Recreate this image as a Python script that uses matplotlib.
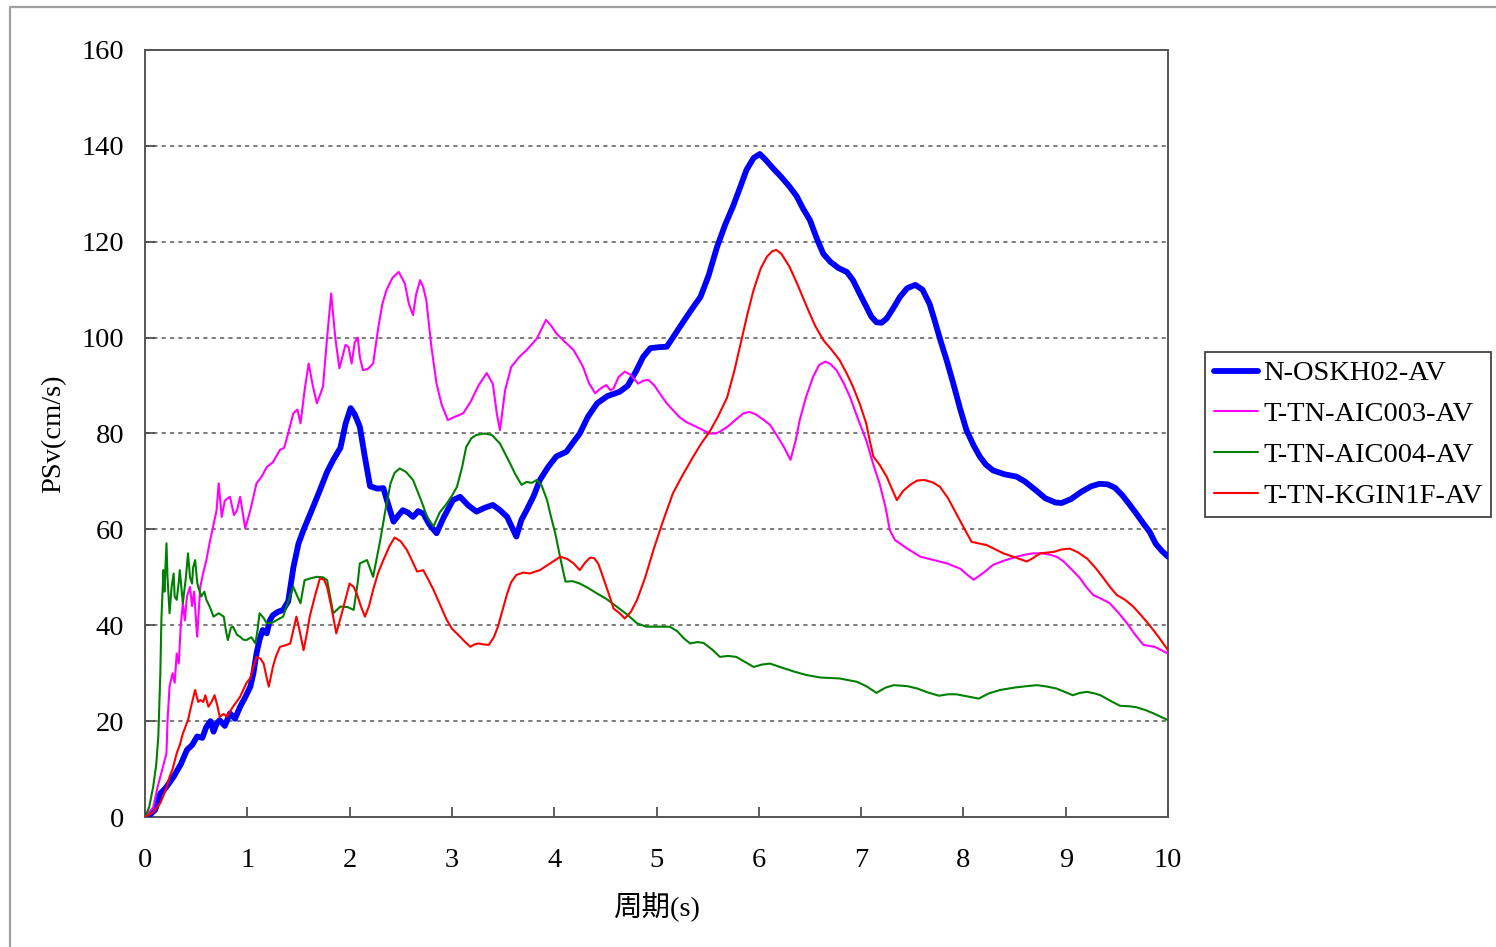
import matplotlib.pyplot as plt
from matplotlib.lines import Line2D
import numpy as np

plt.rcParams['font.family'] = ['Liberation Serif', 'Noto Sans CJK JP']

# 速度応答スペクトル (周期[s], PSv[cm/s])
oskh02 = [(0.00, 0.0), (0.05, 0.5), (0.10, 1.5), (0.15, 4.9), (0.20, 6.0), (0.28, 8.4), (0.35, 11.0),
          (0.41, 14.0), (0.46, 15.0), (0.51, 16.8), (0.56, 16.5), (0.60, 18.8), (0.64, 20.0), (0.67, 17.8),
          (0.70, 19.5), (0.73, 20.2), (0.78, 19.0), (0.83, 21.6), (0.88, 20.5), (0.93, 23.0), (0.98, 25.0),
          (1.03, 27.2), (1.06, 30.0), (1.09, 34.1), (1.12, 37.0), (1.15, 39.0), (1.19, 38.3), (1.22, 41.0),
          (1.25, 42.1), (1.30, 42.8), (1.35, 43.2), (1.40, 45.0), (1.45, 52.0), (1.50, 57.0), (1.55, 59.9),
          (1.63, 64.0), (1.71, 68.2), (1.78, 72.0), (1.84, 74.5), (1.91, 77.0), (1.96, 82.0), (2.01, 85.3),
          (2.05, 84.0), (2.10, 81.4), (2.15, 75.0), (2.20, 69.0), (2.27, 68.5), (2.33, 68.6), (2.38, 65.0),
          (2.43, 61.6), (2.48, 63.0), (2.52, 64.0), (2.57, 63.5), (2.62, 62.6), (2.67, 63.8), (2.72, 63.3),
          (2.78, 61.0), (2.85, 59.2), (2.92, 62.5), (3.01, 66.1), (3.08, 66.8), (3.16, 65.0), (3.24, 63.7),
          (3.32, 64.5), (3.40, 65.1), (3.47, 64.0), (3.54, 62.6), (3.63, 58.5), (3.68, 62.0), (3.73, 64.0),
          (3.80, 67.0), (3.86, 70.3), (3.94, 73.0), (4.02, 75.2), (4.12, 76.2), (4.18, 78.0), (4.25, 80.0),
          (4.33, 83.5), (4.42, 86.3), (4.52, 87.8), (4.64, 88.7), (4.72, 90.0), (4.80, 93.0), (4.87, 96.0),
          (4.94, 97.8), (5.02, 98.0), (5.10, 98.1), (5.16, 100.0), (5.23, 102.3), (5.30, 104.5), (5.36, 106.4),
          (5.43, 108.5), (5.51, 113.0), (5.59, 118.8), (5.67, 123.5), (5.75, 127.5), (5.82, 131.5), (5.88, 135.0),
          (5.95, 137.5), (6.01, 138.3), (6.07, 137.0), (6.14, 135.3), (6.22, 133.5), (6.30, 131.5), (6.37, 129.5),
          (6.43, 127.0), (6.50, 124.5), (6.57, 120.5), (6.63, 117.5), (6.70, 115.8), (6.78, 114.5), (6.86, 113.7),
          (6.92, 112.0), (6.99, 109.0), (7.05, 106.5), (7.10, 104.4), (7.15, 103.2), (7.20, 103.1), (7.25, 104.0),
          (7.31, 106.0), (7.38, 108.5), (7.45, 110.3), (7.53, 111.0), (7.60, 110.0), (7.67, 107.0), (7.72, 103.5),
          (7.77, 99.8), (7.84, 95.0), (7.90, 90.5), (7.97, 85.0), (8.03, 80.7), (8.10, 77.5), (8.16, 75.2),
          (8.22, 73.5), (8.29, 72.3), (8.40, 71.5), (8.52, 71.0), (8.60, 70.0), (8.70, 68.3), (8.80, 66.5),
          (8.90, 65.6), (8.96, 65.5), (9.05, 66.3), (9.15, 67.8), (9.25, 69.0), (9.33, 69.5), (9.41, 69.4),
          (9.48, 68.7), (9.55, 67.2), (9.62, 65.3), (9.70, 63.0), (9.76, 61.2), (9.82, 59.5), (9.88, 57.0),
          (9.94, 55.5), (10.00, 54.3)]

aic003 = [(0.00, 0.0), (0.08, 2.0), (0.12, 6.0), (0.17, 10.0), (0.21, 13.3), (0.22, 20.0), (0.24, 27.2),
          (0.27, 30.0), (0.29, 28.0), (0.31, 34.1), (0.33, 32.0), (0.35, 40.0), (0.37, 44.6), (0.39, 41.0),
          (0.41, 46.0), (0.44, 48.0), (0.46, 44.0), (0.48, 47.0), (0.51, 37.6), (0.54, 48.0), (0.57, 51.0),
          (0.60, 53.6), (0.63, 57.0), (0.66, 60.0), (0.68, 62.0), (0.70, 64.0), (0.72, 69.6), (0.75, 62.6),
          (0.78, 66.0), (0.83, 66.8), (0.87, 63.0), (0.90, 64.0), (0.93, 66.8), (0.98, 60.2), (1.03, 64.0),
          (1.09, 69.6), (1.14, 71.0), (1.19, 73.0), (1.25, 74.0), (1.32, 76.6), (1.36, 77.0), (1.39, 79.3),
          (1.45, 84.2), (1.49, 85.0), (1.52, 82.1), (1.56, 89.0), (1.60, 94.6), (1.64, 90.0), (1.68, 86.3),
          (1.71, 88.0), (1.74, 89.8), (1.78, 100.0), (1.82, 109.2), (1.86, 100.0), (1.90, 93.6), (1.93, 96.0),
          (1.96, 98.5), (1.99, 98.0), (2.02, 94.6), (2.05, 99.0), (2.08, 100.0), (2.10, 96.0), (2.13, 93.2),
          (2.18, 93.5), (2.23, 94.6), (2.28, 102.0), (2.32, 107.0), (2.36, 109.9), (2.42, 112.5), (2.48, 113.7),
          (2.54, 111.3), (2.58, 107.0), (2.62, 104.7), (2.65, 109.0), (2.69, 112.0), (2.72, 110.5), (2.75, 107.8),
          (2.80, 98.0), (2.85, 90.4), (2.90, 86.0), (2.96, 82.8), (3.03, 83.5), (3.11, 84.2), (3.18, 86.5),
          (3.26, 90.0), (3.34, 92.6), (3.40, 90.4), (3.44, 84.0), (3.47, 80.7), (3.52, 89.0), (3.58, 93.9),
          (3.66, 96.0), (3.73, 97.4), (3.83, 99.8), (3.92, 103.7), (3.97, 102.5), (4.02, 100.9), (4.10, 99.2),
          (4.19, 97.4), (4.28, 94.0), (4.34, 90.5), (4.40, 88.4), (4.46, 89.5), (4.51, 90.1), (4.55, 89.0),
          (4.58, 89.4), (4.63, 91.8), (4.69, 92.9), (4.75, 92.2), (4.82, 90.4), (4.87, 91.0), (4.92, 91.2),
          (4.98, 90.0), (5.05, 87.8), (5.10, 86.3), (5.16, 84.9), (5.22, 83.5), (5.29, 82.4), (5.40, 81.3),
          (5.52, 80.0), (5.58, 80.0), (5.62, 80.4), (5.70, 81.5), (5.78, 83.0), (5.85, 84.2), (5.91, 84.5),
          (5.97, 84.0), (6.05, 82.8), (6.11, 81.8), (6.18, 79.5), (6.25, 77.0), (6.31, 74.5), (6.36, 78.5),
          (6.40, 82.8), (6.46, 87.5), (6.53, 91.8), (6.59, 94.3), (6.65, 95.0), (6.70, 94.5), (6.76, 93.2),
          (6.83, 90.5), (6.89, 87.7), (6.97, 83.0), (7.05, 78.6), (7.12, 73.5), (7.18, 69.6), (7.24, 64.5),
          (7.28, 59.9), (7.33, 57.8), (7.45, 56.0), (7.58, 54.3), (7.71, 53.6), (7.84, 52.9), (7.97, 51.8),
          (8.04, 50.5), (8.10, 49.5), (8.20, 51.0), (8.29, 52.6), (8.40, 53.5), (8.52, 54.3), (8.60, 54.7),
          (8.68, 55.0), (8.77, 55.0), (8.85, 54.7), (8.92, 54.2), (8.98, 53.3), (9.06, 51.6), (9.14, 49.8),
          (9.20, 48.0), (9.27, 46.3), (9.35, 45.5), (9.43, 44.6), (9.52, 42.5), (9.60, 40.4), (9.68, 38.0),
          (9.76, 35.9), (9.87, 35.5), (10.00, 34.1)]

aic004 = [(0.00, 0.0), (0.04, 2.0), (0.08, 6.3), (0.11, 11.0), (0.13, 16.8), (0.15, 30.0), (0.16, 41.0),
          (0.18, 51.5), (0.19, 47.0), (0.21, 57.1), (0.22, 50.0), (0.24, 42.5), (0.26, 48.0), (0.28, 50.8),
          (0.29, 46.0), (0.31, 45.3), (0.33, 49.0), (0.34, 51.5), (0.36, 47.0), (0.37, 44.6), (0.40, 50.0),
          (0.42, 55.0), (0.44, 50.0), (0.46, 48.7), (0.47, 52.0), (0.49, 53.6), (0.51, 49.0), (0.52, 48.0),
          (0.55, 46.0), (0.58, 47.0), (0.60, 45.3), (0.63, 44.0), (0.67, 41.8), (0.72, 42.5), (0.77, 41.8),
          (0.79, 39.0), (0.81, 36.9), (0.84, 39.5), (0.86, 39.7), (0.90, 38.0), (0.93, 37.6), (0.96, 37.0),
          (0.99, 36.9), (1.04, 37.5), (1.08, 36.2), (1.10, 39.0), (1.12, 42.5), (1.16, 41.5), (1.19, 40.4),
          (1.24, 40.5), (1.29, 41.1), (1.35, 41.8), (1.40, 45.0), (1.45, 48.0), (1.49, 46.0), (1.52, 44.6),
          (1.56, 49.4), (1.62, 49.8), (1.68, 50.1), (1.74, 50.0), (1.78, 49.4), (1.81, 46.0), (1.84, 42.5),
          (1.91, 43.9), (1.98, 43.8), (2.04, 43.2), (2.08, 49.0), (2.10, 52.9), (2.17, 53.6), (2.23, 50.1),
          (2.30, 57.8), (2.35, 64.0), (2.40, 69.6), (2.44, 71.8), (2.49, 72.7), (2.55, 72.0), (2.62, 70.3),
          (2.70, 66.0), (2.76, 62.5), (2.82, 60.6), (2.88, 63.5), (2.95, 65.4), (3.00, 67.0), (3.05, 68.9),
          (3.10, 73.0), (3.14, 77.2), (3.19, 79.0), (3.24, 79.7), (3.32, 80.0), (3.39, 79.7), (3.47, 77.9),
          (3.57, 73.7), (3.62, 71.5), (3.68, 69.3), (3.73, 69.9), (3.78, 69.7), (3.83, 70.3), (3.88, 69.0),
          (3.93, 66.1), (3.97, 62.5), (4.01, 59.2), (4.06, 54.0), (4.11, 49.1), (4.18, 49.2), (4.25, 48.7),
          (4.33, 47.8), (4.42, 46.6), (4.51, 45.5), (4.61, 43.9), (4.71, 42.3), (4.81, 40.4), (4.90, 39.7),
          (4.97, 39.7), (5.05, 39.7), (5.13, 39.7), (5.20, 38.8), (5.27, 37.2), (5.33, 36.2), (5.40, 36.5),
          (5.46, 36.3), (5.54, 35.0), (5.62, 33.4), (5.70, 33.6), (5.78, 33.4), (5.87, 32.3), (5.95, 31.3),
          (6.03, 31.8), (6.11, 32.0), (6.22, 31.2), (6.35, 30.3), (6.47, 29.6), (6.60, 29.1), (6.79, 28.9),
          (6.96, 28.2), (7.05, 27.3), (7.15, 25.9), (7.24, 27.0), (7.32, 27.5), (7.45, 27.3), (7.55, 26.8),
          (7.65, 26.0), (7.76, 25.3), (7.85, 25.6), (7.93, 25.6), (8.05, 25.1), (8.15, 24.7), (8.25, 25.8),
          (8.36, 26.5), (8.50, 27.0), (8.62, 27.3), (8.72, 27.5), (8.82, 27.2), (8.91, 26.8), (9.00, 26.0),
          (9.07, 25.4), (9.14, 25.9), (9.21, 26.1), (9.28, 25.8), (9.34, 25.4), (9.44, 24.2), (9.53, 23.2),
          (9.62, 23.1), (9.69, 22.9), (9.78, 22.3), (9.86, 21.6), (9.93, 20.9), (10.00, 20.2)]

kgin1f = [(0.00, 0.0), (0.08, 1.0), (0.15, 2.9), (0.20, 5.5), (0.24, 8.4), (0.27, 10.0), (0.31, 13.3),
          (0.34, 15.0), (0.37, 17.4), (0.42, 20.2), (0.45, 23.0), (0.49, 26.5), (0.52, 24.0), (0.54, 24.4),
          (0.57, 24.0), (0.59, 25.4), (0.62, 23.0), (0.65, 24.0), (0.68, 25.4), (0.71, 23.0), (0.73, 20.9),
          (0.77, 21.5), (0.80, 20.9), (0.86, 23.0), (0.93, 25.1), (0.99, 27.9), (1.03, 29.0), (1.06, 31.3),
          (1.09, 33.4), (1.13, 33.0), (1.16, 32.0), (1.19, 29.0), (1.21, 27.2), (1.25, 31.3), (1.28, 33.5),
          (1.32, 35.5), (1.37, 35.8), (1.42, 36.2), (1.45, 39.0), (1.48, 41.8), (1.51, 39.0), (1.55, 34.8),
          (1.58, 38.0), (1.61, 41.8), (1.66, 46.0), (1.71, 49.8), (1.75, 49.5), (1.78, 48.0), (1.82, 44.0),
          (1.87, 38.3), (1.93, 43.0), (2.00, 48.7), (2.04, 48.0), (2.07, 46.6), (2.11, 44.0), (2.15, 41.8),
          (2.19, 44.0), (2.23, 47.4), (2.28, 51.0), (2.33, 53.6), (2.39, 56.5), (2.44, 58.3), (2.50, 57.5),
          (2.56, 55.7), (2.61, 53.5), (2.66, 51.2), (2.72, 51.5), (2.77, 49.5), (2.82, 47.4), (2.88, 44.5),
          (2.95, 41.1), (3.00, 39.3), (3.08, 37.6), (3.13, 36.5), (3.18, 35.5), (3.22, 36.0), (3.26, 36.2),
          (3.31, 36.0), (3.36, 35.9), (3.41, 37.5), (3.45, 39.7), (3.50, 43.5), (3.54, 46.6), (3.58, 49.0),
          (3.63, 50.5), (3.70, 51.0), (3.76, 50.8), (3.86, 51.5), (3.96, 52.9), (4.06, 54.3), (4.13, 53.8),
          (4.19, 52.9), (4.25, 51.5), (4.30, 53.0), (4.35, 54.1), (4.39, 54.0), (4.43, 52.9), (4.47, 50.5),
          (4.51, 48.0), (4.55, 45.5), (4.58, 43.5), (4.64, 42.5), (4.69, 41.4), (4.75, 42.8), (4.81, 45.3),
          (4.89, 50.0), (4.97, 55.7), (5.06, 61.5), (5.16, 67.5), (5.26, 71.5), (5.36, 75.2), (5.44, 78.0),
          (5.52, 80.4), (5.60, 83.5), (5.69, 87.5), (5.76, 93.0), (5.82, 98.5), (5.89, 105.0), (5.95, 110.0),
          (6.02, 114.5), (6.08, 116.9), (6.13, 118.0), (6.17, 118.3), (6.22, 117.5), (6.30, 114.8), (6.38, 111.0),
          (6.47, 106.4), (6.55, 102.5), (6.63, 99.5), (6.71, 97.5), (6.79, 95.3), (6.86, 92.5), (6.92, 89.8),
          (6.99, 86.0), (7.05, 82.1), (7.09, 78.0), (7.12, 75.2), (7.18, 73.5), (7.25, 71.0), (7.30, 68.5),
          (7.35, 66.1), (7.41, 68.0), (7.48, 69.3), (7.55, 70.2), (7.62, 70.3), (7.70, 69.8), (7.77, 68.9),
          (7.85, 66.5), (7.93, 63.3), (8.00, 60.5), (8.08, 57.4), (8.23, 56.7), (8.39, 55.0), (8.50, 54.2),
          (8.62, 53.3), (8.68, 54.0), (8.75, 55.0), (8.88, 55.3), (8.96, 55.8), (9.04, 56.0), (9.12, 55.2),
          (9.21, 53.9), (9.29, 52.0), (9.37, 49.8), (9.44, 47.8), (9.50, 46.3), (9.58, 45.3), (9.66, 43.9),
          (9.74, 42.0), (9.82, 40.0), (9.91, 37.5), (10.00, 34.8)]

names = ['N-OSKH02-AV', 'T-TN-AIC003-AV', 'T-TN-AIC004-AV', 'T-TN-KGIN1F-AV']
y_ticks = [0, 20, 40, 60, 80, 100, 120, 140, 160]
x_ticks = [0, 1, 2, 3, 4, 5, 6, 7, 8, 9, 10]

W, H = 1496, 947
fig = plt.figure(figsize=(W / 100, H / 100), dpi=100)
ax = fig.add_axes([145 / W, 1 - 817 / H, (1168 - 145) / W, (817 - 50) / H])

# 外枠 (左と上だけ見えている)
fig.add_artist(Line2D([10 / W, 10 / W, 1.0], [0.0, 1 - 7 / H, 1 - 7 / H],
                      transform=fig.transFigure, color='#a0a0a0', lw=1.6))

# 点線の目盛線
for v in y_ticks[1:-1]:
    ax.axhline(v, color='#666666', lw=1.2, ls=(0, (2.5, 2.5)), zorder=1)

styles = [('#0000ff', 4.2), ('#ff00ff', 1.5), ('#008000', 1.5), ('#ff0000', 1.5)]
for data, name, (c, lw) in zip([oskh02, aic003, aic004, kgin1f], names, styles):
    arr = np.array(data)
    ax.plot(arr[:, 0], arr[:, 1], color=c, lw=lw, label=name, zorder=3,
            solid_joinstyle='round', solid_capstyle='round')

ax.set_xlim(0, 10)
ax.set_ylim(0, 160)
ax.set_xticks(x_ticks)
ax.set_yticks(y_ticks)
ax.tick_params(direction='in', length=7, width=1.2, colors='#444444', labelcolor='black',
               labelsize=20.5)
ax.tick_params(axis='y', pad=15)
ax.tick_params(axis='x', pad=22)
for s in ax.spines.values():
    s.set_color('#555555')
    s.set_linewidth(1.4)

ax.set_xlabel('周期(s)', fontsize=20.5, labelpad=14)
ax.set_ylabel('PSv(cm/s)', fontsize=20.5, labelpad=11)

leg = ax.legend(loc='upper left', bbox_to_anchor=(1205 / W, 1 - 352 / H),
                bbox_transform=fig.transFigure, borderaxespad=0, fontsize=20.5,
                frameon=True, fancybox=False, edgecolor='#333333', framealpha=1,
                handlelength=1.55, handletextpad=0.2, borderpad=0.3, labelspacing=0.52)
leg.get_frame().set_linewidth(1.2)

fig.savefig('out.png', dpi=100)
